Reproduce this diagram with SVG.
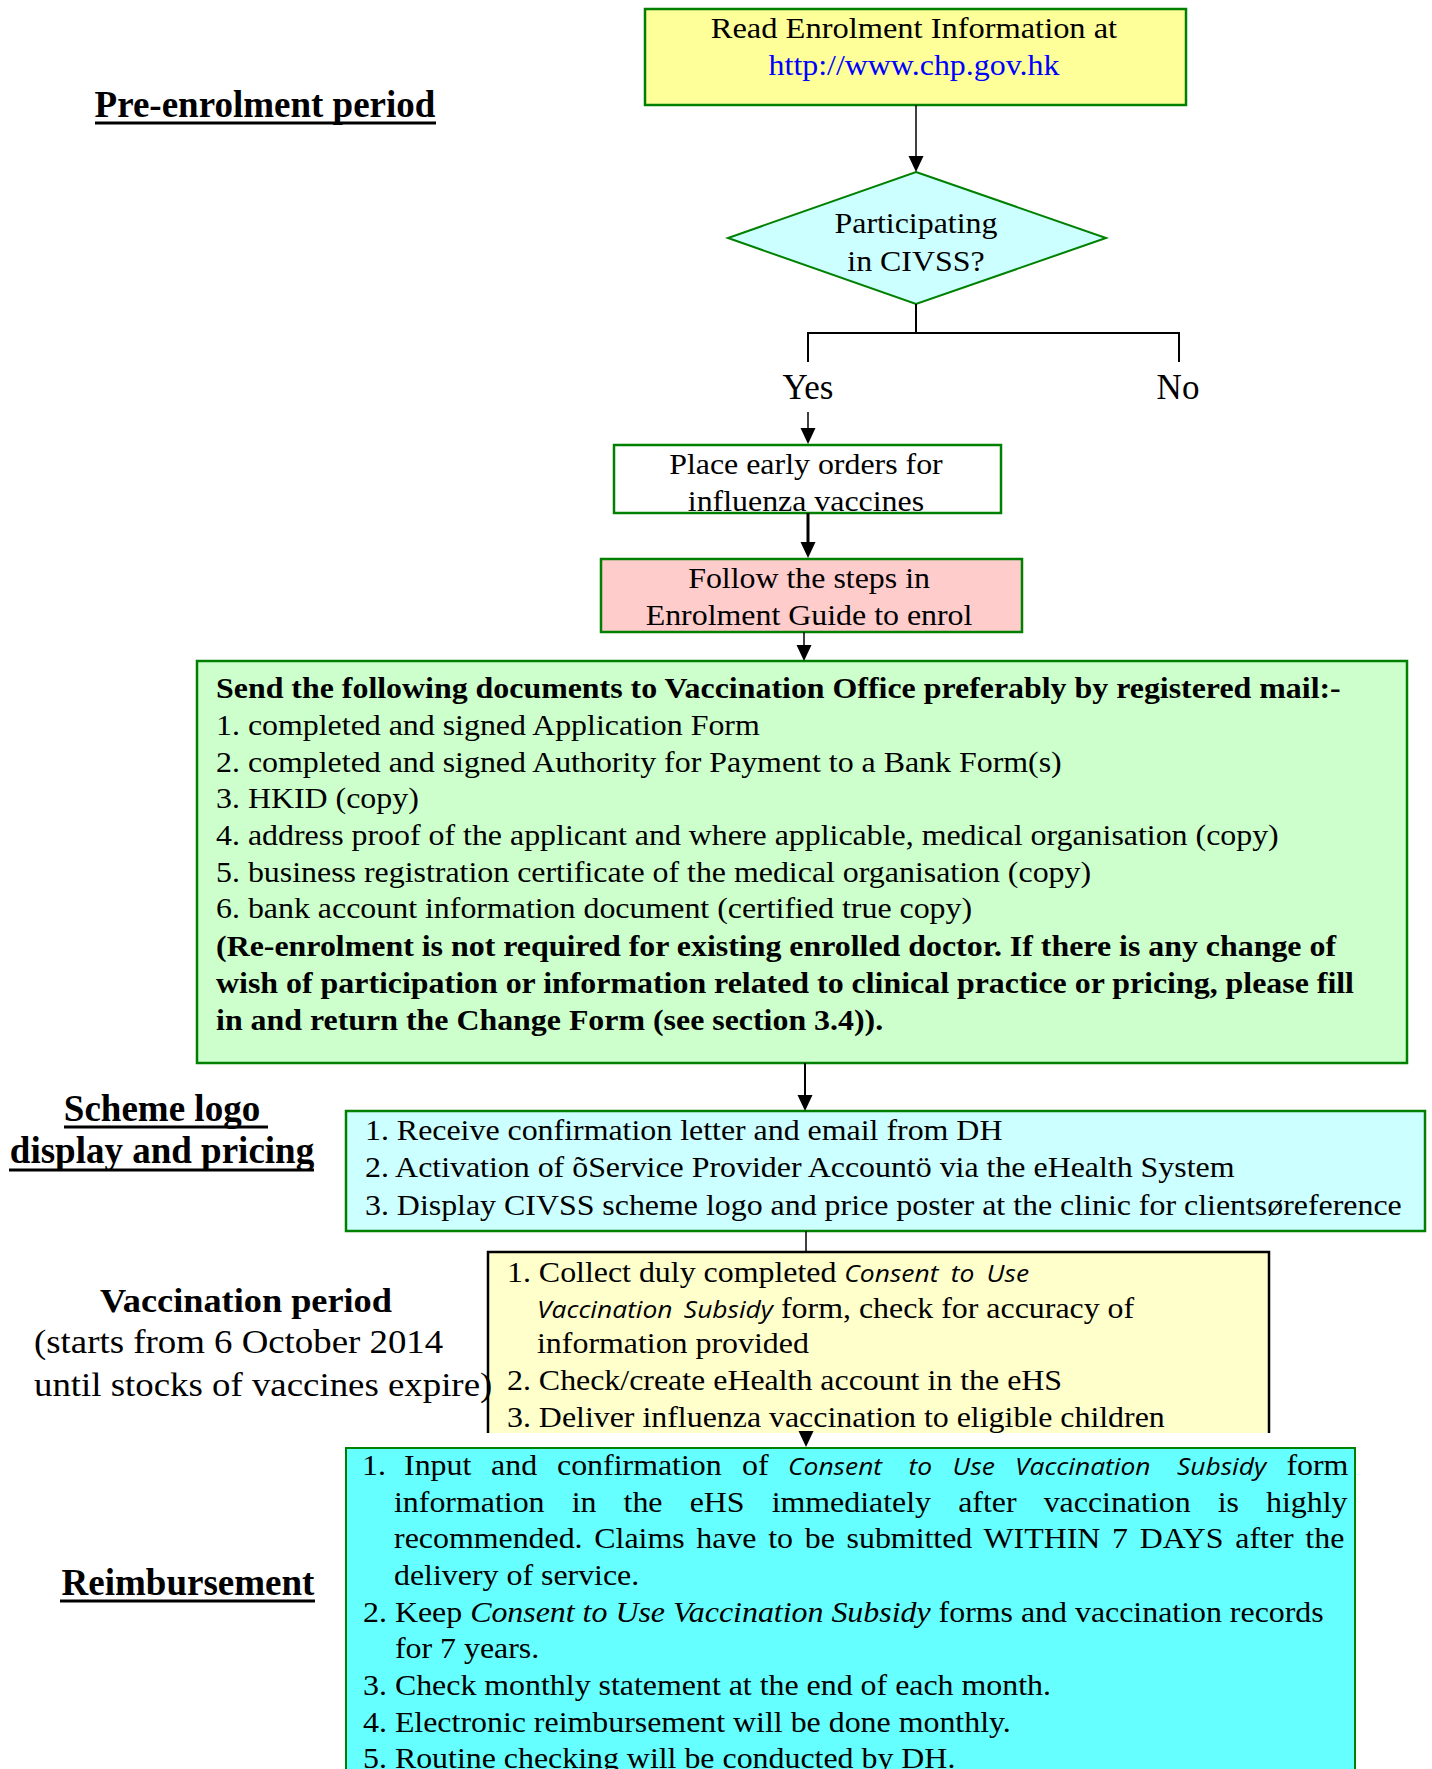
<svg xmlns="http://www.w3.org/2000/svg" width="1432" height="1769" viewBox="0 0 1432 1769">
<defs>
<style>
.t{font-family:"Liberation Serif","Times New Roman",serif;font-size:29px;fill:#000}
.b{font-weight:bold}
.c{text-anchor:middle}
.si{font-family:"Open Sans","Liberation Sans",sans-serif;font-style:italic;font-size:24px}
.i{font-style:italic}
.lbl{font-family:"Liberation Serif","Times New Roman",serif;font-size:37px;font-weight:bold;text-anchor:middle;fill:#000}
.yn{font-family:"Liberation Serif","Times New Roman",serif;font-size:35px;text-anchor:middle;fill:#000}
.box{stroke:#008000;stroke-width:2.5}
.conn{stroke:#000;stroke-width:1.5;fill:none}
.ul{stroke:#000;stroke-width:3}
</style>
<marker id="ah" markerUnits="userSpaceOnUse" viewBox="0 0 16 16" refX="8" refY="8" markerWidth="16" markerHeight="16" orient="auto"><path d="M0,0.5 L16,8 L0,15.5 z" fill="#000"/></marker>
<clipPath id="clipPlace"><rect x="614" y="445" width="387" height="68"/></clipPath>
<clipPath id="clipYellow"><rect x="470" y="1240" width="820" height="193"/></clipPath>
</defs>
<rect width="1432" height="1769" fill="#fff"/>

<g id="read-info">
<rect class="box" x="645" y="9" width="541" height="96" fill="#FFFF99"/>
<g transform="scale(1.1,1)">
<text class="t c" x="830.9" y="38" style="font-size:29.5px">Read Enrolment Information at</text>
<text class="t c" x="830.9" y="75" style="fill:#0000FF">http://www.chp.gov.hk</text>
</g>
</g>

<g id="participating">
<polygon class="box" points="916,172 1106,238 916,304 728,238" fill="#CCFFFF" style="stroke-width:2"/>
<g transform="scale(1.1,1)">
<text class="t c" x="832.7" y="233">Participating</text>
<text class="t c" x="832.7" y="271">in CIVSS?</text>
</g>
</g>

<g id="label-yes"><text class="yn" x="808" y="399">Yes</text></g>
<g id="label-no"><text class="yn" x="1178" y="399">No</text></g>

<g id="place-orders">
<rect x="614" y="445" width="387" height="68" fill="#fff"/>
<g clip-path="url(#clipPlace)">
<g transform="scale(1.1,1)">
<text class="t c" x="732.7" y="474">Place early orders for</text>
<text class="t c" x="732.7" y="511">influenza vaccines</text>
</g>
</g>
<rect class="box" x="614" y="445" width="387" height="68" fill="none"/>
</g>

<g id="follow-steps">
<rect class="box" x="601" y="559" width="421" height="73" fill="#FFCCCC"/>
<g transform="scale(1.1,1)">
<text class="t c" x="735.5" y="588">Follow the steps in</text>
<text class="t c" x="735.5" y="625">Enrolment Guide to enrol</text>
</g>
</g>

<g id="send-documents">
<rect class="box" x="197" y="661" width="1210" height="402" fill="#CCFFCC"/>
<g transform="scale(1.1,1)">
<text class="t b" x="196.4" y="698">Send the following documents to Vaccination Office preferably by registered mail:-</text>
<text class="t" x="196.4" y="735">1. completed and signed Application Form</text>
<text class="t" x="196.4" y="772">2. completed and signed Authority for Payment to a Bank Form(s)</text>
<text class="t" x="196.4" y="808">3. HKID (copy)</text>
<text class="t" x="196.4" y="845">4. address proof of the applicant and where applicable, medical organisation (copy)</text>
<text class="t" x="196.4" y="882">5. business registration certificate of the medical organisation (copy)</text>
<text class="t" x="196.4" y="918">6. bank account information document (certified true copy)</text>
<text class="t b" x="196.4" y="956">(Re-enrolment is not required for existing enrolled doctor. If there is any change of</text>
<text class="t b" x="196.4" y="993">wish of participation or information related to clinical practice or pricing, please fill</text>
<text class="t b" x="196.4" y="1030">in and return the Change Form (see section 3.4)).</text>
</g>
</g>

<g id="scheme-logo">
<rect class="box" x="346" y="1111" width="1079" height="120" fill="#CCFFFF"/>
<g transform="scale(1.1,1)">
<text class="t" x="331.8" y="1140">1. Receive confirmation letter and email from DH</text>
<text class="t" x="331.8" y="1177">2. Activation of õService Provider Accountö via the eHealth System</text>
<text class="t" x="331.8" y="1215">3. Display CIVSS scheme logo and price poster at the clinic for clientsøreference</text>
</g>
</g>

<g id="vaccination" clip-path="url(#clipYellow)">
<rect x="488" y="1252" width="781" height="200" fill="#FFFFCC"/>
<path d="M488,1445 V1252 H1269 V1445" fill="none" stroke="#000" stroke-width="2.5"/>
<g transform="scale(1.1,1)">
<text class="t" x="460.9" y="1282">1. Collect duly completed <tspan class="si" word-spacing="5">Consent to Use</tspan></text>
<text class="t" x="488.2" y="1318"><tspan class="si" word-spacing="4">Vaccination Subsidy</tspan> form, check for accuracy of</text>
<text class="t" x="488.2" y="1353">information provided</text>
<text class="t" x="460.9" y="1390">2. Check/create eHealth account in the eHS</text>
<text class="t" x="460.9" y="1427">3. Deliver influenza vaccination to eligible children</text>
</g>
</g>

<g id="reimbursement">
<rect class="box" x="346" y="1448" width="1009" height="400" fill="#66FFFF" style="stroke-width:2"/>
<g transform="scale(1.1,1)">
<text class="t" y="1475"><tspan x="329.1">1.</tspan><tspan x="367.3">Input</tspan><tspan x="446.4">and</tspan><tspan x="506.4">confirmation</tspan><tspan x="674.5">of</tspan><tspan class="si" x="716.4">Consent</tspan><tspan class="si" x="826">to</tspan><tspan class="si" x="866">Use</tspan><tspan class="si" x="922.7">Vaccination</tspan><tspan class="si" x="1070">Subsidy</tspan><tspan x="1169.5">form</tspan></text>
<text class="t" x="358.2" y="1512" word-spacing="17.4">information in the eHS immediately after vaccination is highly</text>
<text class="t" x="358.2" y="1548" word-spacing="3.4">recommended. Claims have to be submitted WITHIN 7 DAYS after the</text>
<text class="t" x="358.2" y="1585">delivery of service.</text>
<text class="t" x="330" y="1622">2. Keep <tspan class="i">Consent to Use Vaccination Subsidy</tspan> forms and vaccination records</text>
<text class="t" x="359" y="1658">for 7 years.</text>
<text class="t" x="330" y="1695">3. Check monthly statement at the end of each month.</text>
<text class="t" x="330" y="1732">4. Electronic reimbursement will be done monthly.</text>
<text class="t" x="330" y="1768">5. Routine checking will be conducted by DH.</text>
</g>
</g>

<g id="section-labels">
<text class="lbl" x="265" y="117">Pre-enrolment period</text>
<line class="ul" x1="95" y1="123" x2="436" y2="123"/>
<text class="lbl" x="162" y="1121">Scheme logo</text>
<line class="ul" x1="64" y1="1127" x2="268" y2="1127"/>
<text class="lbl" x="162" y="1163">display and pricing</text>
<line class="ul" x1="9" y1="1170" x2="314" y2="1170"/>
<g transform="scale(1.1,1)">
<text class="t b c" x="223.6" y="1312" style="font-size:33px">Vaccination period</text>
<text class="t" x="30.9" y="1353" style="font-size:33.5px">(starts from 6 October 2014</text>
<text class="t" x="30.9" y="1396" style="font-size:33.5px">until stocks of vaccines expire)</text>
</g>
<text class="lbl" x="188" y="1595">Reimbursement</text>
<line class="ul" x1="60" y1="1601" x2="315" y2="1601"/>
</g>

<g id="connectors">
<line class="conn" x1="916" y1="105" x2="916" y2="164" marker-end="url(#ah)"/>
<line class="conn" x1="916" y1="304" x2="916" y2="333" style="stroke-width:2"/>
<polyline class="conn" points="808,362 808,333 1179,333 1179,362" style="stroke-width:2"/>
<line class="conn" x1="808" y1="412" x2="808" y2="436" marker-end="url(#ah)"/>
<line class="conn" x1="808" y1="513" x2="808" y2="550" style="stroke-width:3" marker-end="url(#ah)"/>
<line class="conn" x1="804" y1="632" x2="804" y2="653" marker-end="url(#ah)"/>
<line class="conn" x1="805" y1="1063" x2="805" y2="1103" style="stroke-width:2" marker-end="url(#ah)"/>
<line class="conn" x1="806" y1="1231" x2="806" y2="1252"/>
<line class="conn" x1="806" y1="1433" x2="806" y2="1439" marker-end="url(#ah)"/>
</g>
</svg>
